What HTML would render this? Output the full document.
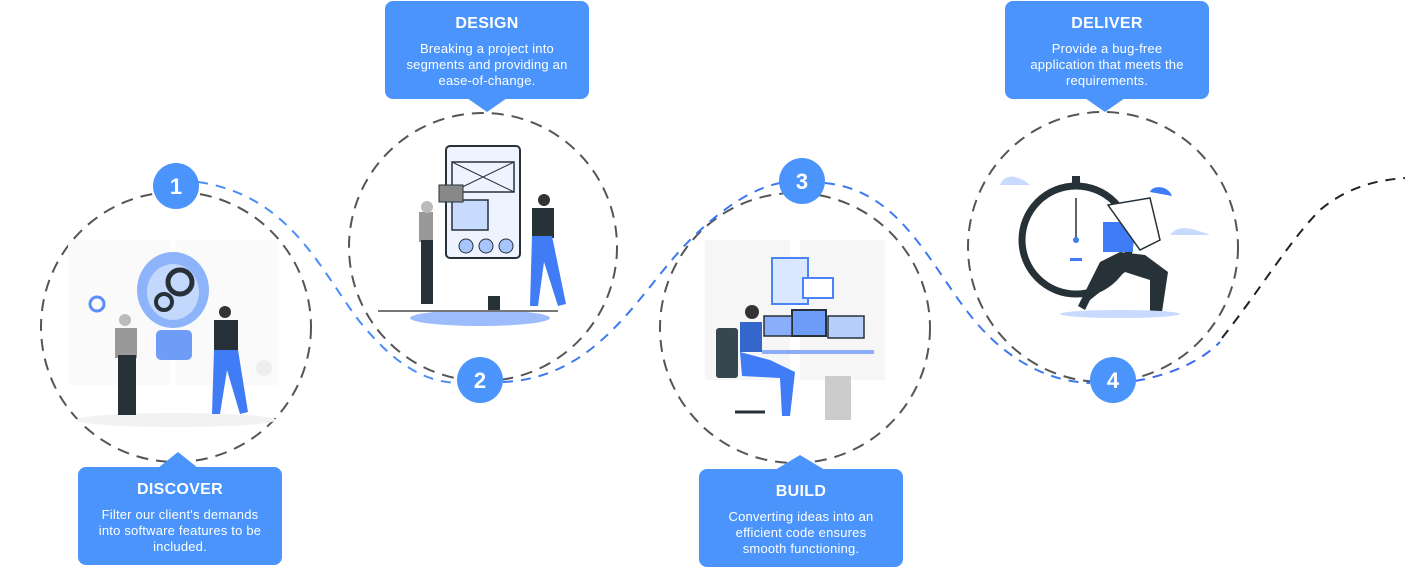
<!DOCTYPE html>
<html><head><meta charset="utf-8"><style>
html,body{margin:0;padding:0;background:#fff;}
body{width:1411px;height:568px;overflow:hidden;position:relative;font-family:"Liberation Sans",sans-serif;}
svg{position:absolute;left:0;top:0;}
.box{position:absolute;width:204px;height:98px;background:#4a94fb;border-radius:8px;color:#fff;text-align:center;}
.box h3{margin:14px 0 8px;font-size:16px;line-height:18px;font-weight:bold;letter-spacing:0.3px;}
.box p{margin:0 4px;font-size:13px;line-height:16px;letter-spacing:0.2px;}
</style></head><body>
<svg width="1411" height="568" viewBox="0 0 1411 568">
<g fill="none" stroke="#555" stroke-width="2" stroke-dasharray="12 8">
<circle cx="176" cy="327" r="135"/>
<circle cx="483" cy="247" r="134"/>
<circle cx="795" cy="328" r="135"/>
<circle cx="1103" cy="247" r="135"/>
</g>
<g fill="none" stroke-width="2" stroke-dasharray="10 8">
<path d="M198,182 C290,195 320,270 360,322 C395,365 425,382 458,383" stroke="#4a8ef5"/>
<path d="M503,382 C600,378 640,290 690,240 C725,205 755,188 780,183" stroke="#3d7af0"/>
<path d="M825,183 C900,190 930,265 970,315 C1005,360 1050,382 1090,383" stroke="#3d7af0"/>
<path d="M1135,381 C1170,375 1200,362 1220,342" stroke="#3d6bf0"/>
<path d="M1222,338 C1260,290 1290,240 1320,210 C1350,185 1380,180 1405,178" stroke="#222"/>
</g>
<g fill="#4a94fb">
<circle cx="176" cy="186" r="23"/><circle cx="480" cy="380" r="23"/>
<circle cx="802" cy="181" r="23"/><circle cx="1113" cy="380" r="23"/>
</g>
<g fill="#fff" font-family="Liberation Sans,sans-serif" font-weight="bold" font-size="22" text-anchor="middle">
<text x="176" y="194">1</text><text x="480" y="388">2</text><text x="802" y="189">3</text><text x="1113" y="388">4</text>
</g>
<g fill="#4a94fb">
<path d="M158,468 L178,452 L198,468Z"/>
<path d="M467,98 L487,112 L507,98Z"/>
<path d="M775,470 L800,455 L825,470Z"/>
<path d="M1085,98 L1105,112 L1125,98Z"/>
</g>
<!-- illustration 1 -->
<ellipse cx="176" cy="420" rx="100" ry="7" fill="#f2f2f2"/>
<rect x="68" y="240" width="102" height="145" fill="#fafafa"/><rect x="176" y="240" width="102" height="145" fill="#fafafa"/>
<ellipse cx="173" cy="290" rx="36" ry="38" fill="#8db3fb"/><ellipse cx="173" cy="292" rx="26" ry="28" fill="#c3d8fd"/>
<rect x="156" y="330" width="36" height="30" rx="5" fill="#6f9cf7"/>
<circle cx="180" cy="282" r="12" fill="none" stroke="#263238" stroke-width="5"/>
<circle cx="164" cy="302" r="8" fill="none" stroke="#263238" stroke-width="4"/>
<rect x="115" y="328" width="22" height="30" fill="#999"/><rect x="118" y="355" width="18" height="60" fill="#263238"/>
<circle cx="125" cy="320" r="6" fill="#bbb"/>
<rect x="214" y="320" width="24" height="32" fill="#263238"/><circle cx="225" cy="312" r="6" fill="#333"/>
<path d="M214,350 L238,350 L248,412 L240,414 L227,370 L220,414 L212,414Z" fill="#3f7cf5"/>
<circle cx="97" cy="304" r="7" fill="none" stroke="#5b8ef8" stroke-width="3"/>
<circle cx="264" cy="368" r="8" fill="#eee"/>
<!-- illustration 2 -->
<rect x="446" y="146" width="74" height="112" rx="4" fill="#eef3ff" stroke="#263238" stroke-width="2"/>
<rect x="452" y="162" width="62" height="30" fill="none" stroke="#263238" stroke-width="1.5"/>
<path d="M452,162 L514,192 M514,162 L452,192" stroke="#263238" stroke-width="1"/>
<rect x="452" y="200" width="36" height="30" fill="#c9daff" stroke="#263238" stroke-width="1.5"/>
<circle cx="466" cy="246" r="7" fill="#a9c5fd" stroke="#263238"/><circle cx="486" cy="246" r="7" fill="#a9c5fd" stroke="#263238"/><circle cx="506" cy="246" r="7" fill="#a9c5fd" stroke="#263238"/>
<rect x="439" y="185" width="24" height="17" fill="#888" stroke="#263238"/>
<ellipse cx="480" cy="318" rx="70" ry="8" fill="#9cbcfb"/>
<line x1="378" y1="311" x2="558" y2="311" stroke="#777" stroke-width="2"/>
<rect x="419" y="212" width="14" height="30" fill="#999"/><rect x="421" y="240" width="12" height="64" fill="#263238"/><circle cx="427" cy="207" r="6" fill="#bbb"/>
<rect x="532" y="208" width="22" height="30" fill="#263238"/><circle cx="544" cy="200" r="6" fill="#333"/>
<path d="M532,236 L552,236 L566,304 L558,306 L544,262 L538,306 L530,306Z" fill="#3f7cf5"/>
<rect x="488" y="296" width="12" height="14" fill="#263238"/>
<!-- illustration 3 -->
<rect x="705" y="240" width="85" height="140" fill="#f6f6f6"/><rect x="800" y="240" width="85" height="140" fill="#f6f6f6"/>
<rect x="772" y="258" width="36" height="46" fill="#dbe6ff" stroke="#4a84f7" stroke-width="2"/>
<rect x="803" y="278" width="30" height="20" fill="#fff" stroke="#4a84f7" stroke-width="2"/>
<rect x="792" y="310" width="34" height="26" fill="#6d9bf8" stroke="#263238" stroke-width="2"/>
<rect x="764" y="316" width="28" height="20" fill="#8aaefa" stroke="#263238" stroke-width="1.5"/>
<rect x="828" y="316" width="36" height="22" fill="#b8cffc" stroke="#263238" stroke-width="1.5"/>
<rect x="762" y="350" width="112" height="4" fill="#8aaefa"/>
<rect x="825" y="376" width="26" height="44" fill="#ccc"/>
<rect x="716" y="328" width="22" height="50" rx="3" fill="#37474f"/>
<rect x="740" y="322" width="22" height="30" fill="#3466cc"/><circle cx="752" cy="312" r="7" fill="#333"/>
<path d="M740,352 L770,360 L795,372 L790,416 L782,416 L780,378 L742,376Z" fill="#3f7cf5"/>
<line x1="735" y1="412" x2="765" y2="412" stroke="#263238" stroke-width="3"/>
<!-- illustration 4 -->
<circle cx="1076" cy="240" r="54" fill="#fff" stroke="#263238" stroke-width="7"/>
<line x1="1076" y1="198" x2="1076" y2="242" stroke="#263238" stroke-width="1.5"/>
<circle cx="1076" cy="240" r="3" fill="#3f7cf5"/>
<rect x="1070" y="258" width="12" height="3" fill="#3f7cf5"/>
<rect x="1072" y="176" width="8" height="10" fill="#263238"/>
<path d="M1000,185 C1005,172 1020,176 1030,185Z" fill="#c9daff"/>
<path d="M1170,235 C1178,224 1192,228 1210,235Z" fill="#c9daff"/>
<rect x="1103" y="222" width="30" height="30" fill="#3f7cf5"/>
<path d="M1120,252 L1145,255 L1168,272 L1162,312 L1150,312 L1150,280 L1125,272 L1090,300 L1085,310 L1078,306 L1100,262Z" fill="#263238"/>
<path d="M1108,205 L1150,198 L1160,240 L1140,250 Z" fill="#fff" stroke="#263238" stroke-width="1.5"/>
<path d="M1150,192 C1152,185 1168,185 1172,196Z" fill="#3f7cf5"/>
<ellipse cx="1120" cy="314" rx="60" ry="4" fill="#c9daff"/>
</svg>
<div class="box" style="left:78px;top:467px;"><h3>DISCOVER</h3><p>Filter our client's demands<br>into software features to be<br>included.</p></div>
<div class="box" style="left:385px;top:1px;"><h3>DESIGN</h3><p>Breaking a project into<br>segments and providing an<br>ease-of-change.</p></div>
<div class="box" style="left:699px;top:469px;"><h3>BUILD</h3><p>Converting ideas into an<br>efficient code ensures<br>smooth functioning.</p></div>
<div class="box" style="left:1005px;top:1px;"><h3>DELIVER</h3><p>Provide a bug-free<br>application that meets the<br>requirements.</p></div>
</body></html>
